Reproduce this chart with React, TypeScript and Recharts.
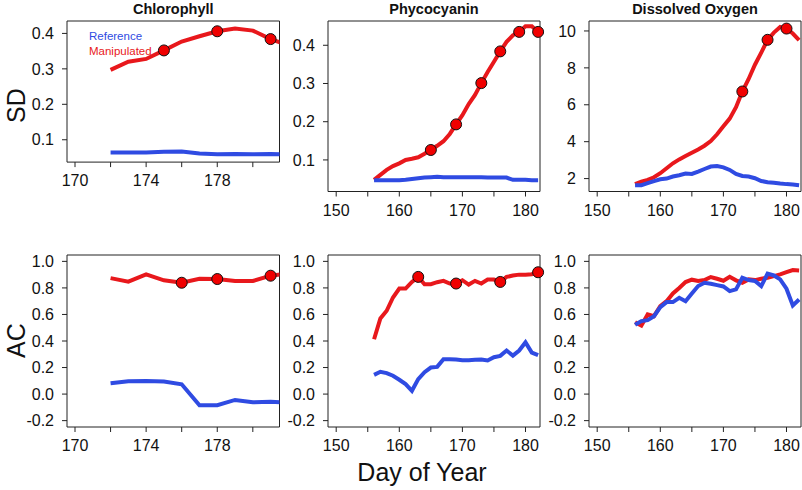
import React from 'react';
import { LineChart, Line, XAxis, YAxis, ReferenceArea, Legend } from 'recharts';

const RED = '#e8181c';
const BLUE = '#2f4be2';
const FONT = '"Liberation Sans", Arial, Helvetica, sans-serif';

// day of year for each lake series
const chlDays = [172, 173, 174, 175, 176, 177, 178, 179, 180, 181, 182];
const lakeDays = [156, 157, 158, 159, 160, 161, 162, 163, 164, 165, 166, 167, 168, 169, 170,
  171, 172, 173, 174, 175, 176, 177, 178, 179, 180, 181, 182];

// SD row
const chlSdMan = [0.297, 0.32, 0.328, 0.352, 0.377, 0.392, 0.406, 0.414, 0.408, 0.384, 0.366];
const chlSdRef = [0.064, 0.064, 0.064, 0.066, 0.067, 0.061, 0.059, 0.06, 0.059, 0.06, 0.059];
const chlSdFlags = [175, 178, 181];

const phySdMan = [0.048, 0.061, 0.074, 0.084, 0.091, 0.1, 0.103, 0.107, 0.116, 0.126, 0.137, 0.149, 0.168, 0.193,
  0.217, 0.246, 0.27, 0.301, 0.33, 0.357, 0.384, 0.409, 0.426, 0.435, 0.45, 0.45, 0.435];
const phySdRef = [0.047, 0.047, 0.047, 0.047, 0.047, 0.048, 0.05, 0.052, 0.054, 0.055, 0.056, 0.055, 0.055, 0.055,
  0.055, 0.055, 0.055, 0.055, 0.054, 0.054, 0.054, 0.054, 0.048, 0.048, 0.048, 0.047, 0.047];
const phySdFlags = [165, 169, 173, 176, 179, 182];

const doSdMan = [1.7, 1.84, 1.93, 2.07, 2.29, 2.56, 2.83, 3.04, 3.22, 3.4, 3.58, 3.78, 4.03, 4.4,
  4.83, 5.25, 5.87, 6.72, 7.4, 8.17, 8.83, 9.52, 9.91, 10.22, 10.13, 9.86, 9.5];
const doSdRef = [1.64, 1.64, 1.75, 1.86, 1.96, 2.0, 2.11, 2.18, 2.27, 2.25, 2.38, 2.52, 2.65, 2.68,
  2.61, 2.47, 2.25, 2.14, 2.11, 2.02, 1.87, 1.8, 1.77, 1.73, 1.7, 1.68, 1.64];
const doSdFlags = [173, 177, 180];

// AC row
const chlAcMan = [0.874, 0.847, 0.902, 0.857, 0.839, 0.869, 0.867, 0.852, 0.852, 0.892, 0.91];
const chlAcRef = [0.082, 0.097, 0.099, 0.094, 0.074, -0.084, -0.084, -0.044, -0.062, -0.057, -0.067];
const chlAcFlags = [176, 178, 181];

const phyAcMan = [0.413, 0.57, 0.628, 0.728, 0.795, 0.795, 0.845, 0.883, 0.828, 0.828, 0.843, 0.853, 0.833, 0.833,
  0.858, 0.825, 0.853, 0.833, 0.863, 0.863, 0.845, 0.883, 0.893, 0.9, 0.9, 0.903, 0.918];
const phyAcRef = [0.145, 0.168, 0.158, 0.138, 0.108, 0.075, 0.025, 0.113, 0.165, 0.2, 0.205, 0.263, 0.263, 0.26,
  0.255, 0.255, 0.258, 0.26, 0.253, 0.278, 0.288, 0.328, 0.29, 0.328, 0.39, 0.313, 0.293];
const phyAcFlags = [163, 169, 176, 182];

const doAcMan = [0.542, 0.517, 0.6, 0.587, 0.663, 0.7, 0.758, 0.8, 0.844, 0.862, 0.852, 0.859, 0.882, 0.869,
  0.854, 0.884, 0.857, 0.839, 0.864, 0.859, 0.869, 0.877, 0.889, 0.902, 0.919, 0.935, 0.932];
const doAcRef = [0.522, 0.55, 0.557, 0.587, 0.655, 0.693, 0.693, 0.726, 0.7, 0.758, 0.814, 0.839, 0.831, 0.821,
  0.811, 0.776, 0.789, 0.877, 0.859, 0.852, 0.814, 0.907, 0.894, 0.864, 0.794, 0.668, 0.713];
const doAcFlags: number[] = [];

// axis ticks
const chlXTicks = [170, 172, 174, 176, 178, 180];
const chlXLabels = [170, 174, 178];
const lakeXTicks = [150, 155, 160, 165, 170, 175, 180];
const lakeXLabels = [150, 160, 170, 180];
const sdYTicks = [0.1, 0.2, 0.3, 0.4];
const doYTicks = [2, 4, 6, 8, 10];
const acYTicks = [-0.2, 0, 0.2, 0.4, 0.6, 0.8, 1.0];

const titles = ['Chlorophyll', 'Phycocyanin', 'Dissolved Oxygen'];
const rowLabels = ['SD', 'AC'];

const COLS = [[67, 279.5], [328, 540], [589, 801]];
const ROWS = [[21, 191.5], [255, 427]];

const TOP = 8;
const RIGHT = 10;
const YW = 60;
const XH = 32;

type PanelProps = {
  col: number;
  row: number;
  days: number[];
  man: number[];
  refv: number[];
  flags: number[];
  xDomain: [number, number];
  xTicks: number[];
  xLabels: number[];
  yDomain: [number, number];
  yTicks: number[];
  yFmt: (v: number) => string;
  legend?: boolean;
};

const LegendBox = (props: any) => {
  const items = (props.payload || []).filter((p: any) => p.type !== 'none').slice().reverse();
  return (
    <div style={{ fontSize: 11.5, lineHeight: '14.7px', fontFamily: FONT }}>
      {items.map((p: any) => (
        <div key={p.value} style={{ color: p.color }}>{p.value}</div>
      ))}
    </div>
  );
};

const Panel = (p: PanelProps) => {
  const [x0, x1] = COLS[p.col];
  const [y0, y1] = ROWS[p.row];
  const w = x1 - x0 + YW + RIGHT;
  const h = y1 - y0 + TOP + XH;
  const left = x0 - YW;
  const top = y0 - TOP;
  const data = p.days.map((d, i) => ({
    day: d,
    man: p.man[i],
    ref: p.refv[i],
    mark: p.flags.includes(d) ? p.man[i] : null,
  }));
  return (
    <div style={{ position: 'absolute', left, top }}>
      <LineChart width={w} height={h} data={data} margin={{ top: TOP, right: RIGHT, left: 0, bottom: 0 }}>
        <XAxis
          type="number"
          dataKey="day"
          domain={p.xDomain}
          allowDataOverflow
          ticks={p.xTicks}
          interval={0}
          tickFormatter={(v: number) => (p.xLabels.includes(v) ? String(v) : '')}
          axisLine={false}
          tickSize={5}
          tickMargin={8}
          height={XH}
          tickLine={{ stroke: '#222' }}
          tick={{ fontSize: 16, fill: '#111' }}
        />
        <YAxis
          type="number"
          domain={p.yDomain}
          allowDataOverflow
          ticks={p.yTicks}
          interval={0}
          tickFormatter={p.yFmt}
          axisLine={false}
          tickSize={5}
          tickMargin={8}
          width={YW}
          tickLine={{ stroke: '#222' }}
          tick={{ fontSize: 16, fill: '#111' }}
        />
        <Line type="linear" dataKey="man" name="Manipulated" stroke={RED} strokeWidth={4} dot={false} isAnimationActive={false} />
        <Line type="linear" dataKey="ref" name="Reference" stroke={BLUE} strokeWidth={4} dot={false} isAnimationActive={false} />
        <Line
          type="linear"
          dataKey="mark"
          stroke="none"
          legendType="none"
          connectNulls={false}
          dot={{ r: 5.5, fill: '#f00000', stroke: '#111', strokeWidth: 1, clipDot: false }}
          isAnimationActive={false}
        />
        <ReferenceArea
          x1={p.xDomain[0]}
          x2={p.xDomain[1]}
          y1={p.yDomain[0]}
          y2={p.yDomain[1]}
          fill="none"
          stroke="#222"
          strokeWidth={1}
          ifOverflow="visible"
        />
        {p.legend && (
          <Legend
            content={LegendBox}
            wrapperStyle={{ position: 'absolute', left: 89 - left, top: 29 - top, width: 'auto' }}
          />
        )}
      </LineChart>
    </div>
  );
};

const f1 = (v: number) => v.toFixed(1);
const f0 = (v: number) => String(v);

const chlX: [number, number] = [169.55, 181.5];
const lakeX: [number, number] = [148.7, 182.3];
const acY: [number, number] = [-0.248, 1.048];

export default function App() {
  return (
    <div
      style={{
        position: 'absolute',
        left: 0,
        top: 0,
        width: 802,
        height: 490,
        overflow: 'hidden',
        background: '#fff',
        fontFamily: FONT,
        color: '#111',
      }}
    >
      <Panel col={0} row={0} days={chlDays} man={chlSdMan} refv={chlSdRef} flags={chlSdFlags}
        xDomain={chlX} xTicks={chlXTicks} xLabels={chlXLabels} yDomain={[0.037, 0.435]} yTicks={sdYTicks} yFmt={f1} legend />
      <Panel col={1} row={0} days={lakeDays} man={phySdMan} refv={phySdRef} flags={phySdFlags}
        xDomain={lakeX} xTicks={lakeXTicks} xLabels={lakeXLabels} yDomain={[0.0174, 0.4635]} yTicks={sdYTicks} yFmt={f1} />
      <Panel col={2} row={0} days={lakeDays} man={doSdMan} refv={doSdRef} flags={doSdFlags}
        xDomain={lakeX} xTicks={lakeXTicks} xLabels={lakeXLabels} yDomain={[1.3, 10.54]} yTicks={doYTicks} yFmt={f0} />
      <Panel col={0} row={1} days={chlDays} man={chlAcMan} refv={chlAcRef} flags={chlAcFlags}
        xDomain={chlX} xTicks={chlXTicks} xLabels={chlXLabels} yDomain={acY} yTicks={acYTicks} yFmt={f1} />
      <Panel col={1} row={1} days={lakeDays} man={phyAcMan} refv={phyAcRef} flags={phyAcFlags}
        xDomain={lakeX} xTicks={lakeXTicks} xLabels={lakeXLabels} yDomain={acY} yTicks={acYTicks} yFmt={f1} />
      <Panel col={2} row={1} days={lakeDays} man={doAcMan} refv={doAcRef} flags={doAcFlags}
        xDomain={lakeX} xTicks={lakeXTicks} xLabels={lakeXLabels} yDomain={acY} yTicks={acYTicks} yFmt={f1} />

      {titles.map((t, i) => (
        <div
          key={t}
          style={{
            position: 'absolute',
            left: COLS[i][0],
            width: COLS[i][1] - COLS[i][0],
            top: 1,
            textAlign: 'center',
            fontWeight: 'bold',
            fontSize: 14.5,
            lineHeight: '17px',
          }}
        >
          {t}
        </div>
      ))}

      {rowLabels.map((t, i) => (
        <div
          key={t}
          style={{
            position: 'absolute',
            left: 1,
            top: (ROWS[i][0] + ROWS[i][1]) / 2 - 30,
            width: 30,
            height: 60,
            lineHeight: '30px',
            textAlign: 'center',
            fontSize: 25,
            writingMode: 'vertical-rl',
            transform: 'rotate(180deg)',
          }}
        >
          {t}
        </div>
      ))}

      <div
        style={{
          position: 'absolute',
          left: 322,
          width: 200,
          top: 457,
          textAlign: 'center',
          fontSize: 25,
          lineHeight: '30px',
        }}
      >
        Day of Year
      </div>
    </div>
  );
}
